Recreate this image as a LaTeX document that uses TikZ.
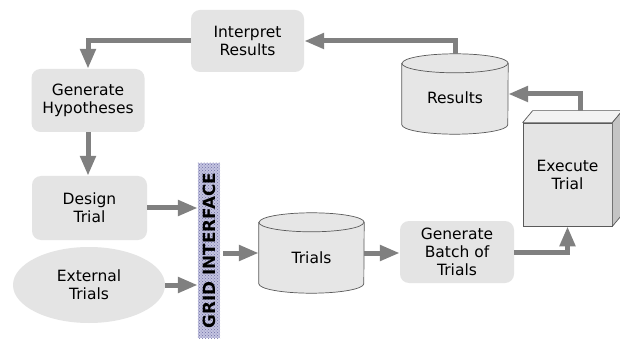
\documentclass[tikz,border=0pt]{standalone}
\usepackage{fontspec}
\setmainfont{DejaVu Sans}
\usetikzlibrary{arrows.meta,shapes.geometric,patterns,calc}
\definecolor{boxgray}{HTML}{E4E4E4}
\definecolor{cylgray}{HTML}{E6E6E6}
\definecolor{edgegray}{HTML}{5A5A5A}
\definecolor{arrowgray}{HTML}{808080}
\definecolor{barfill}{HTML}{C4C4E0}
\definecolor{bardots}{HTML}{6E6EA6}
\definecolor{cubetop}{HTML}{F3F3F3}
\definecolor{cubeside}{HTML}{C4C4C4}
\newcommand\mycyl[3]{% name, x radius, y radius
  \path[fill=cylgray,draw=edgegray,line width=0.7pt]
    ([yshift=-#3]#1.north west) -- ([yshift=#3]#1.south west)
    arc[start angle=180,end angle=360,x radius=#2,y radius=#3]
    -- ([yshift=-#3]#1.north east)
    arc[start angle=0,end angle=180,x radius=#2,y radius=#3] -- cycle;
  \draw[edgegray,line width=0.7pt] ([yshift=-#3]#1.north west)
    arc[start angle=180,end angle=360,x radius=#2,y radius=#3];
}
\begin{document}
\begin{tikzpicture}[x=1pt,y=1pt,
  every node/.style={font=\fontsize{15.5}{18}\selectfont, align=center},
  procbox/.style={fill=boxgray, rounded corners=9pt, inner sep=0pt},
  cylbox/.style={rectangle, inner sep=0pt},
  flow/.style={draw=arrowgray, line width=5pt, -{Triangle[width=15pt,length=20pt]}}]
\useasboundingbox[fill=white] (0,0) rectangle (620,340);

% process boxes
\node[procbox, minimum width=113pt, minimum height=62pt] (interp) at (247.5,299) {Interpret\\Results};
\node[procbox, minimum width=113pt, minimum height=63pt] (gh) at (88,239.5) {Generate\\Hypotheses};
\node[procbox, minimum width=115pt, minimum height=64pt] (design) at (89.5,132) {Design\\Trial};
\node[ellipse, fill=boxgray, minimum width=152pt, minimum height=76pt, inner sep=0pt] (ext) at (89,55) {External\\Trials};
\node[procbox, minimum width=114pt, minimum height=62pt] (batch) at (457,88) {Generate\\Batch of\\Trials};

% grid interface bar
\node[rectangle, fill=barfill, minimum width=22pt, minimum height=175pt, inner sep=0pt] (bar) at (209,89.5) {};
\fill[pattern=crosshatch dots, pattern color=bardots] (bar.south west) rectangle (bar.north east);
\node[rotate=90, font=\fontsize{16.8}{18}\bfseries] (barlabel) at (bar.center) {GRID INTERFACE};

% cylinders
\node[cylbox, minimum width=105pt, minimum height=80pt] (trials) at (311.5,87) {};
\mycyl{trials}{52.5pt}{9.5pt}
\node (trialslabel) at ([yshift=-5pt]trials.center) {Trials};

\node[cylbox, minimum width=106pt, minimum height=80pt] (res) at (455,246) {};
\mycyl{res}{53pt}{9.5pt}
\node (reslabel) at ([yshift=-4pt]res.center) {Results};

% execute cube
\node[rectangle, fill=boxgray, draw=edgegray, line width=0.7pt, minimum width=89pt, minimum height=103pt, inner sep=0pt] (exec) at (567.5,165.5) {Execute\\Trial};
\draw[fill=cubetop, draw=edgegray, line width=0.7pt, line join=round]
  (exec.north west) -- ++(10,12) -- ([shift={(10,12)}]exec.north east) -- (exec.north east) -- cycle;
\draw[fill=cubeside, draw=edgegray, line width=0.7pt, line join=round]
  (exec.north east) -- ++(10,12) -- ([shift={(10,12)}]exec.south east) -- (exec.south east) -- cycle;
\coordinate (exectop) at ([shift={(12.5,12)}]exec.north);

% connectors
\draw[flow] (res.north) |- (interp.east);
\draw[flow] (interp.west) -| (gh.north);
\draw[flow] (gh.south) -- (gh.south |- design.north);
\draw[flow] (design.east) -- (design.east -| bar.west);
\draw[flow] (ext.east) -- (ext.east -| bar.west);
\draw[flow] ([xshift=3pt]trials.west -| bar.east) -- (trials.west);
\draw[flow] (trials.east) -- (trials.east -| batch.west);
\draw[flow] (batch.east) -| (exec.south);
\draw[flow] (exectop) |- (res.east);
\end{tikzpicture}
\end{document}
